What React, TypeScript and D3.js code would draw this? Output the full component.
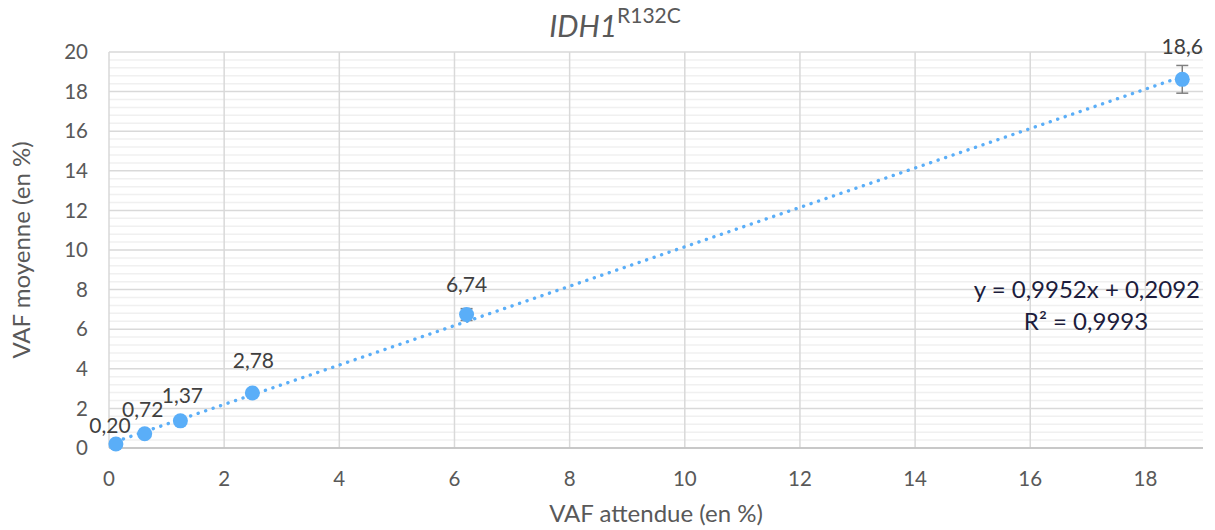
import * as d3 from "d3";

// valeurs
const expectedVaf = [0.12, 0.62, 1.24, 2.49, 6.21, 18.64];
const meanVaf = [0.2, 0.72, 1.37, 2.78, 6.74, 18.62];
const errorVaf = [0.05, 0.08, 0.1, 0.12, 0.3, 0.7];
const pointLabels = ["0,20", "0,72", "1,37", "2,78", "6,74", "18,6"];
const xTicks = [0, 2, 4, 6, 8, 10, 12, 14, 16, 18];
const yTicks = [0, 2, 4, 6, 8, 10, 12, 14, 16, 18, 20];
const slope = 0.9952;
const intercept = 0.2092;
const equationText = "y = 0,9952x + 0,2092";
const r2Text = "R² = 0,9993";

// placement des étiquettes (style, comme Excel les a poussées)
const labelDx = [-6, -2, 2, 1, 0, 0];
const labelDy = [-18, -24, -25, -32, -30, -33];

const W = 1215;
const H = 530;
const margin = { left: 109, right: 12, top: 52, bottom: 82 };
const font = "Lato, 'Open Sans', sans-serif";

export default function App() {
  const x = d3.scaleLinear().domain([0, 19]).range([margin.left, W - margin.right]);
  const y = d3.scaleLinear().domain([0, 20]).range([H - margin.bottom, margin.top]);

  const minor = d3.range(0, 20.001, 0.4).filter((v) => Math.abs(v / 2 - Math.round(v / 2)) > 0.01);
  const xMin = d3.min(expectedVaf)!;
  const xMax = d3.max(expectedVaf)!;
  const trend = d3.line<number>().x((d) => x(d)).y((d) => y(slope * d + intercept));

  return (
    <svg width={W} height={H} style={{ position: "absolute", left: 0, top: 0, background: "white" }} fontFamily={font}>
      {/* grille secondaire */}
      {minor.map((v) => (
        <line key={"m" + v} x1={x(0)} x2={x(19)} y1={y(v)} y2={y(v)} stroke="#f0f0f0" strokeWidth={1.5} />
      ))}
      {yTicks.map((v) => (
        <line key={"gy" + v} x1={x(0)} x2={x(19)} y1={y(v)} y2={y(v)} stroke="#d9d9d9" strokeWidth={1.5} />
      ))}
      {xTicks.map((v) => (
        <line key={"gx" + v} x1={x(v)} x2={x(v)} y1={y(0)} y2={y(20)} stroke="#d9d9d9" strokeWidth={1.5} />
      ))}
      <line x1={x(0)} x2={x(19)} y1={y(0)} y2={y(0)} stroke="#bfbfbf" strokeWidth={1.5} />

      {yTicks.map((v) => (
        <text key={"ty" + v} x={88} y={y(v)} dy="0.35em" textAnchor="end" fontSize={20.5} fill="#595959">
          {v}
        </text>
      ))}
      {xTicks.map((v) => (
        <text key={"tx" + v} x={x(v)} y={479} dy="0.35em" textAnchor="middle" fontSize={20.5} fill="#595959">
          {v}
        </text>
      ))}

      <text x={(margin.left + W - margin.right) / 2} y={514} dy="0.35em" textAnchor="middle" fontSize={24} fill="#595959">
        VAF attendue (en %)
      </text>
      <text transform={`translate(22,${(y(0) + y(20)) / 2}) rotate(-90)`} dy="0.35em" textAnchor="middle" fontSize={24} fill="#595959">
        VAF moyenne (en %)
      </text>

      <text x={615} y={37} textAnchor="middle" fill="#595959">
        <tspan fontSize={30} fontStyle="italic">IDH1</tspan>
        <tspan fontSize={21} dy={-14}>R132C</tspan>
      </text>

      {/* courbe de tendance */}
      <path d={trend([xMin, xMax]) ?? ""} fill="none" stroke="#5aaef8" strokeWidth={3.4} strokeDasharray="0.1 7.8" strokeLinecap="round" />

      {/* barres d'erreur */}
      {expectedVaf.map((v, i) => (
        <g key={"e" + i} stroke="#7f7f7f" strokeWidth={1.5}>
          <line x1={x(v)} x2={x(v)} y1={y(meanVaf[i] - errorVaf[i])} y2={y(meanVaf[i] + errorVaf[i])} />
          <line x1={x(v) - 6} x2={x(v) + 6} y1={y(meanVaf[i] - errorVaf[i])} y2={y(meanVaf[i] - errorVaf[i])} />
          <line x1={x(v) - 6} x2={x(v) + 6} y1={y(meanVaf[i] + errorVaf[i])} y2={y(meanVaf[i] + errorVaf[i])} />
        </g>
      ))}

      {expectedVaf.map((v, i) => (
        <circle key={"p" + i} cx={x(v)} cy={y(meanVaf[i])} r={7.5} fill="#5aaef8" />
      ))}

      {expectedVaf.map((v, i) => (
        <text key={"l" + i} x={x(v) + labelDx[i]} y={y(meanVaf[i]) + labelDy[i]} dy="0.35em" textAnchor="middle" fontSize={21} fill="#404040">
          {pointLabels[i]}
        </text>
      ))}

      <text x={1200} y={290} dy="0.35em" textAnchor="end" fontSize={24} fill="#1c1c3c">
        {equationText}
      </text>
      <text x={1086} y={322} dy="0.35em" textAnchor="middle" fontSize={24} fill="#1c1c3c">
        {r2Text}
      </text>
    </svg>
  );
}
